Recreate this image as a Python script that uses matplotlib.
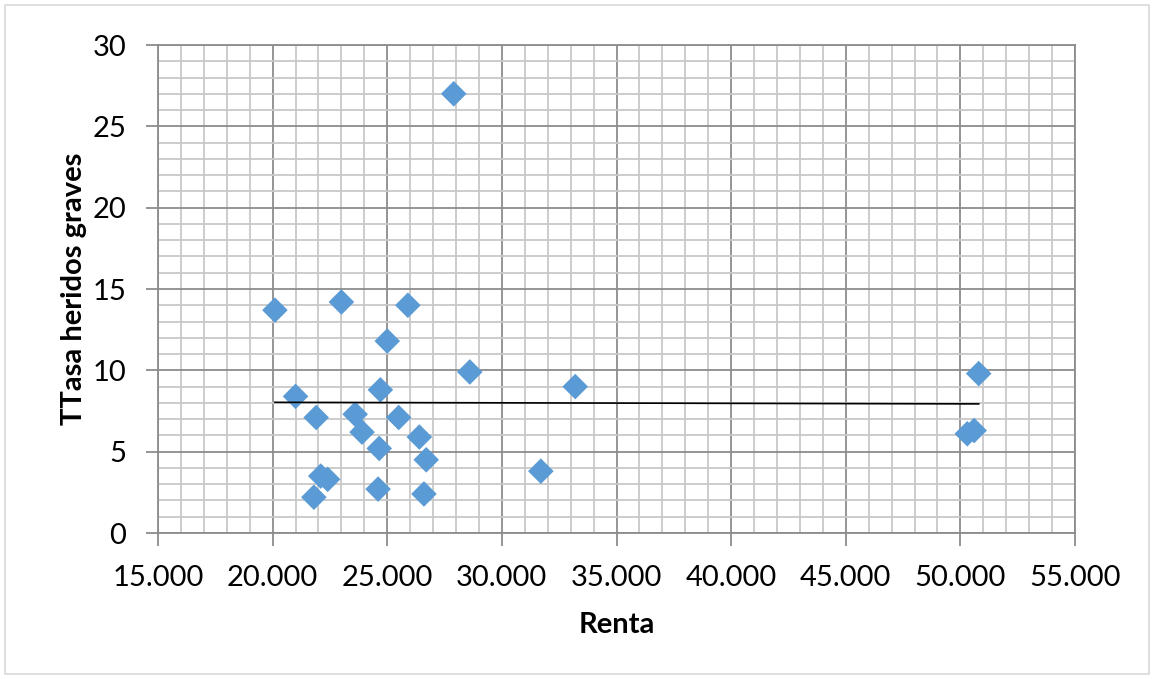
import matplotlib
matplotlib.use("Agg")
import matplotlib.pyplot as plt
import numpy as np
from matplotlib.ticker import MultipleLocator, FuncFormatter
from matplotlib.patches import Rectangle

renta = [20100, 21000, 21900, 21800, 22100, 22400, 23000, 23600, 23900, 24600,
         24650, 24700, 25000, 25500, 25900, 26400, 26600, 26700, 27900, 28600,
         31700, 33200, 50300, 50600, 50800]
tasa = [13.7, 8.4, 7.1, 2.2, 3.5, 3.3, 14.2, 7.3, 6.2, 2.7,
        5.2, 8.8, 11.8, 7.1, 14.0, 5.9, 2.4, 4.5, 27.0, 9.9,
        3.8, 9.0, 6.1, 6.3, 9.8]

x_label = "Renta"
y_label = "TTasa heridos graves"

plt.rcParams['font.family'] = ['Lato', 'DejaVu Sans']

fig = plt.figure(figsize=(11.54, 6.79), dpi=100)
ax = fig.add_axes([158/1154, 1-533/679, (1075-158)/1154, (533-45)/679])

fig.patches.append(Rectangle((5/1154, 5/679), 1144/1154, 669/679, transform=fig.transFigure,
                             fill=False, edgecolor='#d9d9d9', linewidth=1.2))

ax.set_xlim(15000, 55000)
ax.set_ylim(0, 30)
ax.xaxis.set_major_locator(MultipleLocator(5000))
ax.xaxis.set_minor_locator(MultipleLocator(1000))
ax.yaxis.set_major_locator(MultipleLocator(5))
ax.yaxis.set_minor_locator(MultipleLocator(1))
ax.xaxis.set_major_formatter(FuncFormatter(lambda v, p: f"{int(v):,}".replace(",", ".")))

ax.grid(which='major', color='#8c8c8c', linewidth=1.3)
ax.grid(which='minor', color='#c8c8c8', linewidth=1.3)
ax.set_axisbelow(True)
for s in ax.spines.values():
    s.set_color('#8c8c8c')
    s.set_linewidth(1.3)
ax.tick_params(which='major', length=9, width=1.3, color='#8c8c8c', labelsize=21)
ax.tick_params(axis='x', which='major', pad=14)
ax.tick_params(axis='y', which='major', pad=14)
ax.tick_params(which='minor', length=0)

ax.scatter(renta, tasa, marker='D', s=170, color='#5b9bd5', edgecolors='none', zorder=3)

coef = np.polyfit(renta, tasa, 1)
xs = np.array([min(renta), max(renta)])
ax.plot(xs, np.polyval(coef, xs), color='black', linewidth=1.2, zorder=4)

ax.set_xlabel(x_label, fontsize=21, fontweight='bold', labelpad=15)
ax.set_ylabel(y_label, fontsize=21, fontweight='bold', labelpad=4)

fig.savefig("out.png", dpi=100)
